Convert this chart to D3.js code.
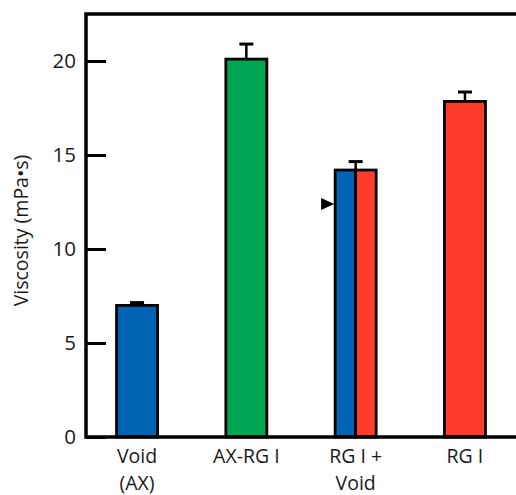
<!DOCTYPE html>
<html lang="en">
<head>
    <meta charset="UTF-8">
    <title>Viscosity</title>
    <script src="https://d3js.org/d3.v7.min.js"></script>
    <style>
        body { margin: 0; background: white; }
        svg text { font-family: "Open Sans", sans-serif; fill: #1a1a1a; }
    </style>
</head>
<body>
    <svg id="chart" width="516" height="495"></svg>
    <script>
        // categories and their label lines
        let categories = ["void", "axrg", "mix", "rg"]
        let labelLines = [["Void", "(AX)"], ["AX-RG I"], ["RG I +", "Void"], ["RG I"]]
        // mean viscosity and upper error bar
        let values = [7.0, 20.1, 14.2, 17.85]
        let errors = [0.15, 0.8, 0.45, 0.5]
        // colour segments per bar (the mixed bar is split in two)
        let segments = [["#0063b4"], ["#00a651"], ["#0063b4", "#ff3b2b"], ["#ff3b2b"]]
        let arrowValue = 12.4
        let yTicks = [0, 5, 10, 15, 20]

        let width = 516, height = 495
        let margin = { top: 14, left: 86, bottom: 58 }

        let svg = d3.select("#chart")

        let x = d3.scalePoint()
            .domain(categories)
            .range([margin.left, width])
            .padding(0.467)
        let barW = 41

        let y = d3.scaleLinear()
            .domain([0, 22.5])
            .range([height - margin.bottom, margin.top])

        let bars = svg.append("g")
        categories.forEach((c, i) => {
            let segs = segments[i]
            let sw = barW / segs.length
            let x0 = x(c) - barW / 2
            segs.forEach((col, j) => {
                bars.append("rect")
                    .attr("x", x0 + j * sw)
                    .attr("y", y(values[i]))
                    .attr("width", sw)
                    .attr("height", y(0) - y(values[i]))
                    .attr("fill", col)
                    .attr("stroke", "black")
                    .attr("stroke-width", 2.8)
            })
            // error bar
            bars.append("line")
                .attr("x1", x(c)).attr("x2", x(c))
                .attr("y1", y(values[i])).attr("y2", y(values[i] + errors[i]))
                .attr("stroke", "black").attr("stroke-width", 2.5)
            bars.append("line")
                .attr("x1", x(c) - 7).attr("x2", x(c) + 7)
                .attr("y1", y(values[i] + errors[i])).attr("y2", y(values[i] + errors[i]))
                .attr("stroke", "black").attr("stroke-width", 3)
        })

        // arrow pointing at the mixed bar
        let ax = x("mix") - barW / 2 - 1
        let ay = y(arrowValue)
        svg.append("path")
            .attr("d", `M${ax},${ay} L${ax - 13},${ay - 6} L${ax - 13},${ay + 6} Z`)
            .attr("fill", "black")

        // y axis, ticks pointing inward
        let yAxis = svg.append("g")
            .attr("transform", `translate(${margin.left},0)`)
            .call(d3.axisRight(y).tickValues(yTicks).tickSize(20).tickFormat(""))
        yAxis.select(".domain").remove()
        yAxis.selectAll(".tick line").attr("stroke", "black").attr("stroke-width", 3)

        svg.append("g").selectAll("text")
            .data(yTicks)
            .join("text")
            .attr("x", margin.left - 10)
            .attr("y", d => y(d))
            .attr("dy", "0.36em")
            .attr("text-anchor", "end")
            .attr("font-size", 20.5)
            .text(d => d)

        // frame: left, top, bottom
        svg.append("path")
            .attr("d", `M${width + 2},${margin.top} H${margin.left} V${y(0)} H${width + 2}`)
            .attr("fill", "none")
            .attr("stroke", "black")
            .attr("stroke-width", 3.5)

        // x labels
        categories.forEach((c, i) => {
            let t = svg.append("text")
                .attr("text-anchor", "middle")
                .attr("font-size", 19.5)
            labelLines[i].forEach((line, k) => {
                t.append("tspan")
                    .attr("x", x(c))
                    .attr("y", 463 + k * 26.5)
                    .text(line)
            })
        })

        // y label
        svg.append("text")
            .attr("transform", `translate(28,${(margin.top + y(0)) / 2 + 5}) rotate(-90)`)
            .attr("text-anchor", "middle")
            .attr("font-size", 19.5)
            .text("Viscosity (mPa\u2022s)")
    </script>
</body>
</html>
